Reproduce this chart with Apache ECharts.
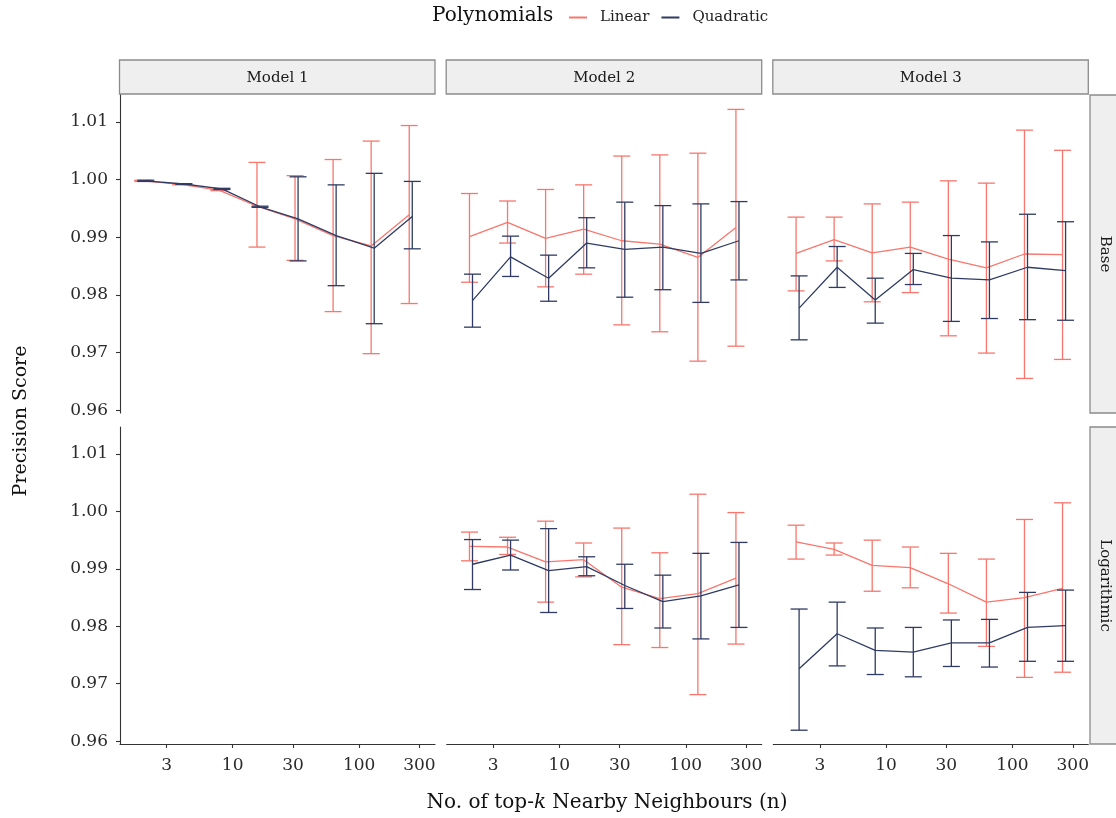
<!DOCTYPE html>
<html>
<head>
<meta charset="utf-8">
<script src="https://cdn.jsdelivr.net/npm/echarts@6/dist/echarts.min.js"></script>
<style>html,body{margin:0;padding:0;background:#fff}#chart{width:1116px;height:818px}</style>
</head>
<body>
<div id="chart"></div>
<script>
// ---- data ----
const neighbours = [2, 4, 8, 16, 32, 64, 128, 256];
const xTickLabels = [3, 10, 30, 100, 300];
const yTickLabels = [0.96, 0.97, 0.98, 0.99, 1.00, 1.01];
const modelNames = ['Model 1', 'Model 2', 'Model 3'];
const transformNames = ['Base', 'Logarithmic'];
const polyNames = ['Linear', 'Quadratic'];

// Model 1 - Base
const m1BaseLinMean = [0.9998, 0.9992, 0.9982, 0.9954, 0.9932, 0.9903, 0.9885, 0.9939];
const m1BaseLinLo   = [0.9997, 0.9991, 0.9981, 0.9883, 0.9860, 0.9771, 0.9698, 0.9785];
const m1BaseLinHi   = [0.9999, 0.9993, 0.9983, 1.0030, 1.0007, 1.0035, 1.0067, 1.0094];
const m1BaseQuaMean = [0.9998, 0.99925, 0.9984, 0.9953, 0.9932, 0.9903, 0.9881, 0.9936];
const m1BaseQuaLo   = [0.9997, 0.9992, 0.9983, 0.9952, 0.9859, 0.9816, 0.9750, 0.9880];
const m1BaseQuaHi   = [0.9999, 0.9993, 0.9985, 0.9954, 1.0005, 0.9991, 1.0011, 0.9997];
// Model 2 - Base
const m2BaseLinMean = [0.9901, 0.9926, 0.9898, 0.9914, 0.9894, 0.9888, 0.9865, 0.9917];
const m2BaseLinLo   = [0.9822, 0.9890, 0.9814, 0.9836, 0.9748, 0.9736, 0.9685, 0.9711];
const m2BaseLinHi   = [0.9976, 0.9963, 0.9983, 0.9991, 1.0041, 1.0043, 1.0046, 1.0122];
const m2BaseQuaMean = [0.9790, 0.9866, 0.9829, 0.9890, 0.9879, 0.9883, 0.9872, 0.9894];
const m2BaseQuaLo   = [0.9744, 0.9832, 0.9789, 0.9847, 0.9796, 0.9809, 0.9787, 0.9826];
const m2BaseQuaHi   = [0.9836, 0.9902, 0.9869, 0.9934, 0.9961, 0.9955, 0.9958, 0.9962];
// Model 3 - Base
const m3BaseLinMean = [0.9872, 0.9896, 0.9873, 0.9883, 0.9862, 0.9847, 0.9871, 0.9870];
const m3BaseLinLo   = [0.9807, 0.9859, 0.9788, 0.9804, 0.9729, 0.9699, 0.9655, 0.9688];
const m3BaseLinHi   = [0.9935, 0.9935, 0.9958, 0.9961, 0.9998, 0.9994, 1.0086, 1.0051];
const m3BaseQuaMean = [0.9777, 0.9848, 0.9791, 0.9844, 0.9829, 0.9826, 0.9848, 0.9842];
const m3BaseQuaLo   = [0.9722, 0.9813, 0.9751, 0.9818, 0.9754, 0.9759, 0.9757, 0.9756];
const m3BaseQuaHi   = [0.9833, 0.9884, 0.9829, 0.9872, 0.9903, 0.9892, 0.9940, 0.9927];
// Model 2 - Logarithmic
const m2LogLinMean = [0.9939, 0.9938, 0.9912, 0.9916, 0.9868, 0.9848, 0.9857, 0.9884];
const m2LogLinLo   = [0.9914, 0.9925, 0.9842, 0.9886, 0.9768, 0.9763, 0.9681, 0.9769];
const m2LogLinHi   = [0.9964, 0.9955, 0.9983, 0.9945, 0.9971, 0.9928, 1.0030, 0.9998];
const m2LogQuaMean = [0.9908, 0.9924, 0.9897, 0.9904, 0.9871, 0.9843, 0.9853, 0.9872];
const m2LogQuaLo   = [0.9864, 0.9898, 0.9824, 0.9888, 0.9831, 0.9797, 0.9778, 0.9798];
const m2LogQuaHi   = [0.9951, 0.9950, 0.9970, 0.9921, 0.9908, 0.9889, 0.9927, 0.9946];
// Model 3 - Logarithmic
const m3LogLinMean = [0.9947, 0.9934, 0.9906, 0.9902, 0.9874, 0.9842, 0.9850, 0.9866];
const m3LogLinLo   = [0.9917, 0.9924, 0.9861, 0.9867, 0.9823, 0.9765, 0.9711, 0.9720];
const m3LogLinHi   = [0.9976, 0.9945, 0.9950, 0.9938, 0.9927, 0.9917, 0.9986, 1.0015];
const m3LogQuaMean = [0.9726, 0.9787, 0.9758, 0.9755, 0.9771, 0.9771, 0.9798, 0.9801];
const m3LogQuaLo   = [0.9619, 0.9731, 0.9716, 0.9712, 0.9730, 0.9729, 0.9739, 0.9739];
const m3LogQuaHi   = [0.9830, 0.9842, 0.9797, 0.9798, 0.9811, 0.9812, 0.9859, 0.9863];

// ---- layout / style ----
const FONT = 'DejaVu Serif';
const COLORS = {Linear: '#F8766D', Quadratic: '#2F3B63'};
const colLeft = [120, 446.7, 773.3];
const panelW = 315;
const rowTop = [95, 427];
const panelH = [318, 317];
const xMin = 0.109, xMax = 2.600;   // log10 extent of the x scale
const yMin = 0.9595, yMax = 1.0147;
const dodge = {Linear: -0.012, Quadratic: 0.012};

// panels: [row, col, linMean, linLo, linHi, quaMean, quaLo, quaHi]
const panels = [
  [0, 0, m1BaseLinMean, m1BaseLinLo, m1BaseLinHi, m1BaseQuaMean, m1BaseQuaLo, m1BaseQuaHi],
  [0, 1, m2BaseLinMean, m2BaseLinLo, m2BaseLinHi, m2BaseQuaMean, m2BaseQuaLo, m2BaseQuaHi],
  [0, 2, m3BaseLinMean, m3BaseLinLo, m3BaseLinHi, m3BaseQuaMean, m3BaseQuaLo, m3BaseQuaHi],
  [1, 0, null],
  [1, 1, m2LogLinMean, m2LogLinLo, m2LogLinHi, m2LogQuaMean, m2LogQuaLo, m2LogQuaHi],
  [1, 2, m3LogLinMean, m3LogLinLo, m3LogLinHi, m3LogQuaMean, m3LogQuaLo, m3LogQuaHi]
];

const xTickVals = xTickLabels.map(v => Math.log10(v));
const grids = [], xAxes = [], yAxes = [], lineSeries = [], barSeries = [];

panels.forEach((p, i) => {
  const r = p[0], c = p[1];
  grids.push({left: colLeft[c], top: rowTop[r], width: panelW, height: panelH[r], containLabel: false});
  xAxes.push({
    gridIndex: i, type: 'value', min: xMin, max: xMax,
    axisLine: {show: r === 1, onZero: false, lineStyle: {color: '#333', width: 1.1}},
    axisTick: {show: r === 1, length: 4, customValues: xTickVals, lineStyle: {color: '#333', width: 1.1}},
    axisLabel: {show: r === 1, customValues: xTickVals, margin: 13,
      formatter: v => String(Math.round(Math.pow(10, v))),
      fontFamily: FONT, fontSize: 17, color: '#2a2a2a'},
    splitLine: {show: false}
  });
  yAxes.push({
    gridIndex: i, type: 'value', min: yMin, max: yMax,
    axisLine: {show: c === 0, onZero: false, lineStyle: {color: '#333', width: 1.1}},
    axisTick: {show: c === 0, length: 4, customValues: yTickLabels, lineStyle: {color: '#333', width: 1.1}},
    axisLabel: {show: c === 0, customValues: yTickLabels, margin: 12,
      formatter: v => v.toFixed(2), fontFamily: FONT, fontSize: 17, color: '#2a2a2a'},
    splitLine: {show: false}
  });
  if (!p[2]) return;
  const sets = {Linear: [p[2], p[3], p[4]], Quadratic: [p[5], p[6], p[7]]};
  polyNames.forEach(name => {
    const [mean, lo, hi] = sets[name];
    const xs = neighbours.map(n => Math.log10(n) + dodge[name]);
    lineSeries.push({
      name: name, type: 'line', xAxisIndex: i, yAxisIndex: i,
      data: xs.map((x, k) => [x, mean[k]]),
      showSymbol: false, symbol: 'none', animation: false,
      lineStyle: {color: COLORS[name], width: 1.3}, itemStyle: {color: COLORS[name]},
      z: name === 'Linear' ? 2 : 4
    });
    barSeries.push({
      name: name, type: 'custom', xAxisIndex: i, yAxisIndex: i,
      data: xs.map((x, k) => [x, lo[k], hi[k]]),
      encode: {x: 0, y: [1, 2]}, animation: false,
      z: name === 'Linear' ? 1 : 3,
      renderItem: (params, api) => {
        const x = api.value(0);
        const pHi = api.coord([x, api.value(2)]);
        const pLo = api.coord([x, api.value(1)]);
        const hw = 8.5;
        const st = {stroke: COLORS[name], lineWidth: 1.3, fill: 'none'};
        return {type: 'group', children: [
          {type: 'line', shape: {x1: pHi[0], y1: pHi[1], x2: pLo[0], y2: pLo[1]}, style: st},
          {type: 'line', shape: {x1: pHi[0] - hw, y1: pHi[1], x2: pHi[0] + hw, y2: pHi[1]}, style: st},
          {type: 'line', shape: {x1: pLo[0] - hw, y1: pLo[1], x2: pLo[0] + hw, y2: pLo[1]}, style: st}
        ]};
      }
    });
  });
});

// strips & titles
const graphics = [];
const stripFill = '#EFEFEF', stripStroke = '#8C8C8C';
modelNames.forEach((m, c) => {
  graphics.push({type: 'rect', shape: {x: colLeft[c] - 0.5, y: 60, width: panelW + 0.5, height: 34},
    style: {fill: stripFill, stroke: stripStroke, lineWidth: 1.3}, silent: true});
  graphics.push({type: 'text', x: colLeft[c] + panelW / 2, y: 78,
    style: {text: m, fill: '#1A1A1A', font: '15px "' + FONT + '"', textAlign: 'center', textVerticalAlign: 'middle'}});
});
transformNames.forEach((t, r) => {
  graphics.push({type: 'rect', shape: {x: 1090, y: rowTop[r], width: 40, height: panelH[r]},
    style: {fill: stripFill, stroke: stripStroke, lineWidth: 1.3}, silent: true});
  graphics.push({type: 'text', x: 1105, y: rowTop[r] + panelH[r] / 2, rotation: -Math.PI / 2,
    style: {text: t, fill: '#1A1A1A', font: '15px "' + FONT + '"', textAlign: 'center', textVerticalAlign: 'middle'}});
});
graphics.push({type: 'text', x: 21, y: 421, rotation: Math.PI / 2,
  style: {text: 'Precision Score', fill: '#111', font: '19px "' + FONT + '"', textAlign: 'center', textVerticalAlign: 'middle'}});
graphics.push({type: 'text', x: 607, y: 803,
  style: {
    text: '{a|No. of top-}{i|k}{a| Nearby Neighbours (n)}',
    rich: {a: {fontFamily: FONT, fontSize: 20, fill: '#111'}, i: {fontFamily: FONT, fontSize: 20, fontStyle: 'italic', fill: '#111'}},
    textAlign: 'center', textVerticalAlign: 'middle'
  }});
graphics.push({type: 'text', x: 432, y: 16,
  style: {text: 'Polynomials', fill: '#111', font: '20px "' + FONT + '"', textAlign: 'left', textVerticalAlign: 'middle'}});

const chart = echarts.init(document.getElementById('chart'), null, {renderer: 'canvas'});
chart.setOption({
  animation: false,
  backgroundColor: '#fff',
  grid: grids,
  xAxis: xAxes,
  yAxis: yAxes,
  legend: {
    data: polyNames.map(n => ({name: n, icon: 'rect', itemStyle: {color: COLORS[n]}})),
    left: 564, top: 5, itemWidth: 18, itemHeight: 2, itemGap: 12,
    textStyle: {fontFamily: FONT, fontSize: 15, color: '#222', padding: [0, 0, 0, 8]},
    selectedMode: false
  },
  series: lineSeries.concat(barSeries),
  graphic: graphics
});
</script>
</body>
</html>
